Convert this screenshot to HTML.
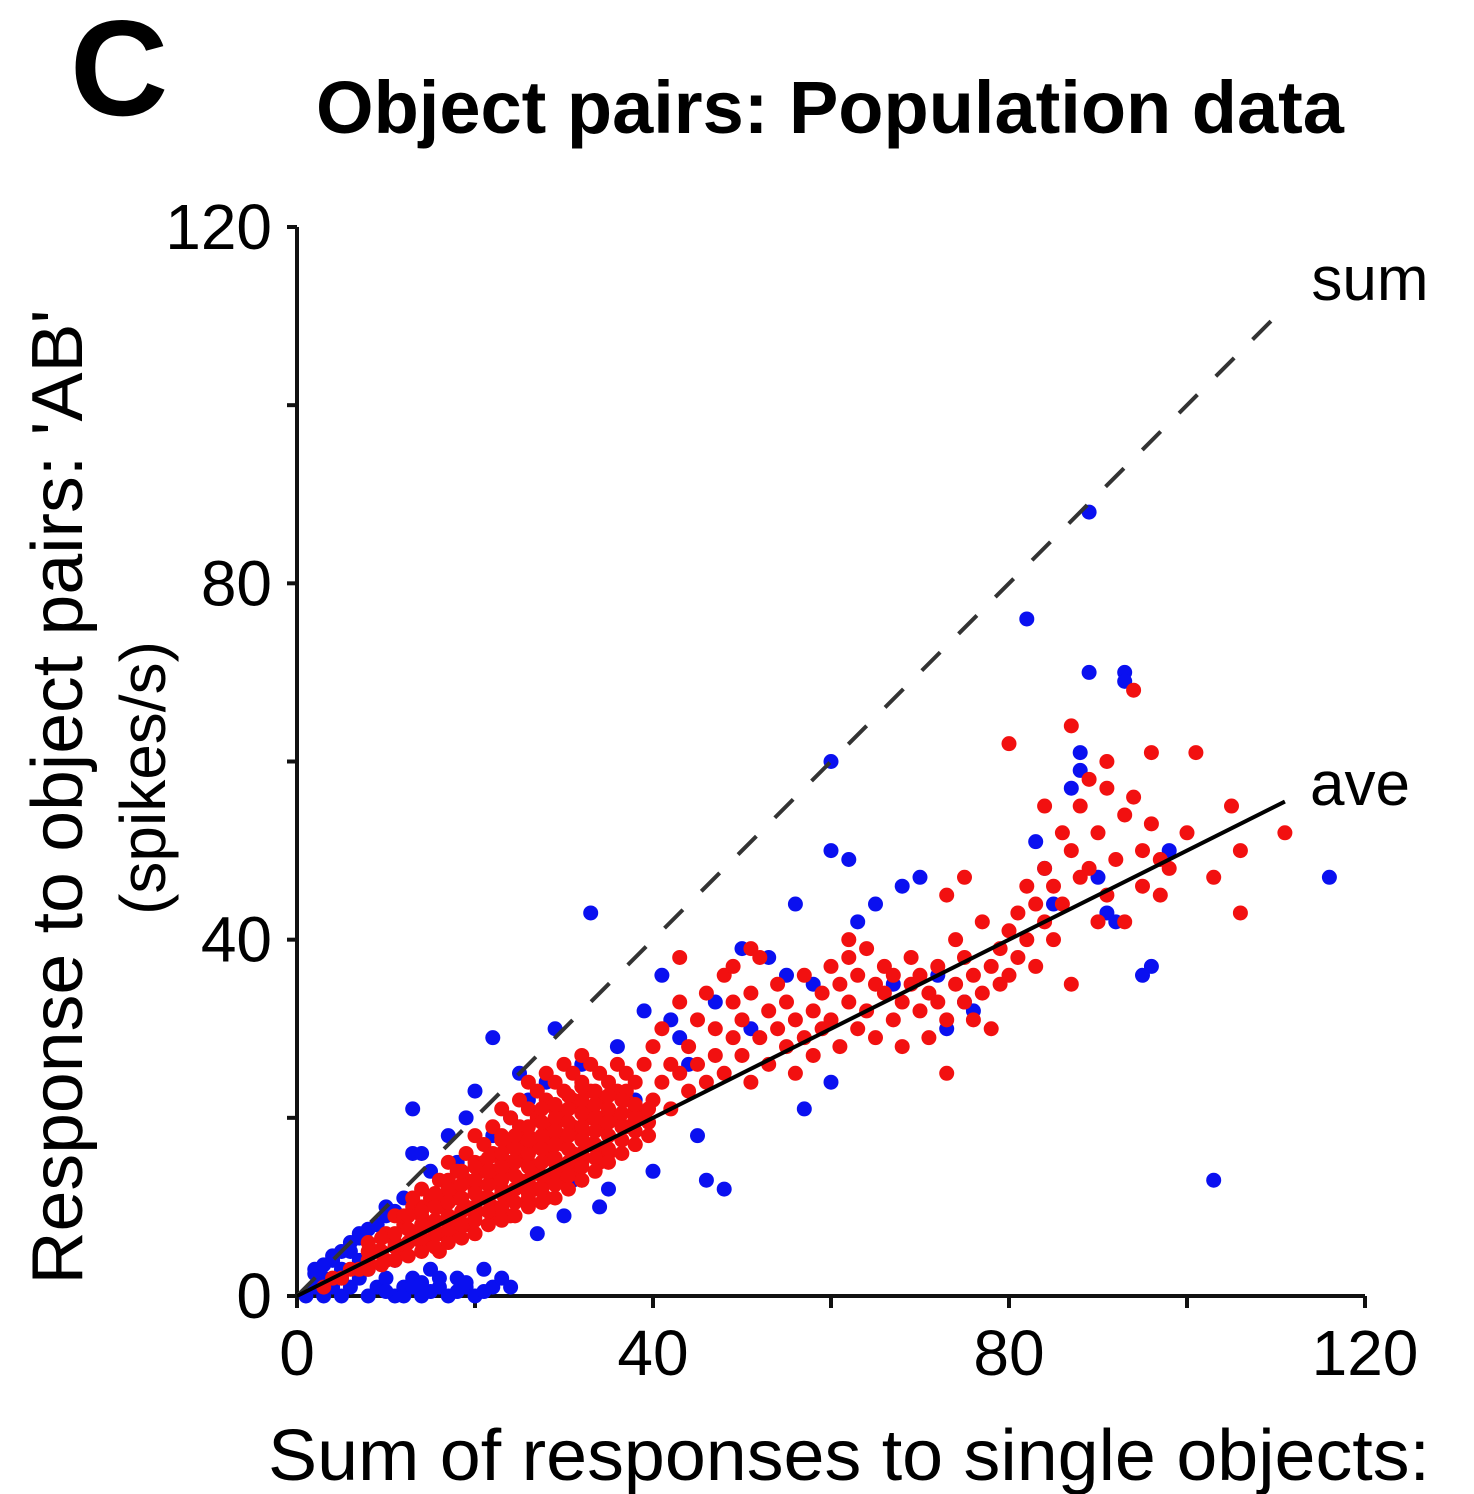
<!DOCTYPE html>
<html><head><meta charset="utf-8"><style>
html,body{margin:0;padding:0;background:#fff;}
svg{display:block;font-family:"Liberation Sans",Arial,sans-serif;}
</style></head><body>
<svg id="chart" width="1474" height="1494" viewBox="0 0 1474 1494">
<text x="70" y="115" font-size="136" font-weight="bold">C</text>
<text x="830" y="133" font-size="74" font-weight="bold" text-anchor="middle">Object pairs: Population data</text>
<g id="axes"></g>
<g id="marks"></g>
<g id="lines"></g>
<text x="1370" y="300" font-size="62" text-anchor="middle">sum</text>
<text x="1360" y="805" font-size="62" text-anchor="middle">ave</text>
<text transform="translate(82,797) rotate(-90)" textLength="975" lengthAdjust="spacingAndGlyphs" font-size="72" text-anchor="middle">Response to object pairs:  'AB'</text>
<text transform="translate(165,778) rotate(-90)" font-size="64" text-anchor="middle">(spikes/s)</text>
<text x="849" y="1480" font-size="72" textLength="1162" lengthAdjust="spacingAndGlyphs" text-anchor="middle">Sum of responses to single objects:</text>
</svg>
<script>
const xTicks=[0,40,80,120];
const yTicks=[0,40,80,120];
const minorTicks=[20,60,100];
const redX=[3,4,5,6,7,8,8,9,10,10,11,11,12,12,13,13,14,14,14,15,15,16,16,16,17,17,17,18,18,18,19,19,19,20,20,20,20,21,21,21,22,22,22,22,23,23,23,23,24,24,24,24,25,25,25,25,26,26,26,26,26,27,27,27,27,28,28,28,28,28,29,29,29,29,30,30,30,30,30,31,31,31,31,32,32,32,32,32,33,33,33,33,34,34,34,34,35,35,35,36,36,36,37,37,37,38,38,39,39,40,40,41,41,42,42,43,43,44,44,45,45,46,46,47,47,48,48,49,49,50,50,51,51,52,52,53,53,54,54,55,55,56,56,57,57,58,58,59,59,60,60,61,61,62,62,63,63,64,64,65,65,66,66,67,67,68,68,69,69,70,70,71,71,72,72,73,73,74,74,75,75,76,76,77,77,78,78,79,79,80,80,81,81,82,82,83,83,84,84,85,85,86,86,87,87,88,88,89,89,90,90,91,91,92,93,93,94,94,95,95,96,96,97,97,98,100,101,103,105,106,106,111,80,87,91,84,43,49,51,73,75,62,
12,14,16,18,20,22,24,26,28,30,32,34,15,19,23,27,31,35,13,17,21,25,29,33,37,18,22,26,30,34,38,16,20,24,28,32,
8,8,9.5,9.5,9.5,11,11,11,12.5,12.5,12.5,12.5,14,14,14,14,15.5,15.5,15.5,15.5,15.5,17,17,17,17,17,18.5,18.5,18.5,18.5,18.5,18.5,20,20,20,20,20,20,21.5,21.5,21.5,21.5,21.5,21.5,23,23,23,23,23,23,23,24.5,24.5,24.5,24.5,24.5,24.5,24.5,26,26,26,26,26,26,26,27.5,27.5,27.5,27.5,27.5,27.5,27.5,27.5,29,29,29,29,29,29,29,29,30.5,30.5,30.5,30.5,30.5,30.5,30.5,30.5,32,32,32,32,32,32,32,32,33.5,33.5,33.5,33.5,33.5,33.5,33.5,35,35,35,35,35,35,36.5,36.5,36.5,36.5,36.5,38,38,38,38,39.5,39.5,39.5];
const redY=[1,2,2,3,3,4,6,5,4,7,6,9,5,8,7,10,6,9,12,8,11,7,10,13,9,12,15,8,11,14,10,13,16,9,12,15,18,11,14,17,10,13,16,19,12,15,18,21,11,14,17,20,13,16,19,22,12,15,18,21,24,14,17,20,23,13,16,19,22,25,15,18,21,24,14,17,20,23,26,16,19,22,25,15,18,21,24,27,17,20,23,26,16,19,22,25,18,21,24,20,23,26,19,22,25,21,24,20,26,22,28,24,30,21,26,25,33,23,28,26,31,24,34,27,30,25,36,29,33,27,31,24,34,29,38,26,32,30,35,28,33,31,25,29,36,32,27,34,30,31,37,28,35,33,38,30,36,32,39,29,35,34,37,31,36,33,28,35,38,32,36,34,29,37,33,31,25,35,40,33,38,36,31,34,42,37,30,39,35,41,36,38,43,40,46,44,37,42,48,46,40,52,44,50,35,47,55,58,48,42,52,57,45,49,54,42,68,56,50,46,61,53,45,49,48,52,61,47,55,50,43,52,62,64,60,55,38,37,39,45,47,40,
9,10,11,12,13,14,15,16,17,18,19,20,6,8,10,12,14,16,11,13,15,17,19,21,23,7,9,11,13,15,17,5,7,9,11,13,
3,5,3.5,5,6.5,4,5.5,7,4.5,6,7.5,9,5,6.5,8,9.5,5.5,7,8.5,10,11.5,6,7.5,9,10.5,12,6.5,8,9.5,11,12.5,14,7,8.5,10,11.5,13,14.5,8,9.5,11,12.5,14,15.5,8.5,10,11.5,13,14.5,16,17.5,9,10.5,12,13.5,15,16.5,18,10,11.5,13,14.5,16,17.5,19,10.5,12,13.5,15,16.5,18,19.5,21,11,12.5,14,15.5,17,18.5,20,21.5,12,13.5,15,16.5,18,19.5,21,22.5,13,14.5,16,17.5,19,20.5,22,23.5,14,15.5,17,18.5,20,21.5,23,15,16.5,18,19.5,21,22.5,16,17.5,19,20.5,22,17,18.5,20,21.5,18,19.5,21];
const blueX=[1,2,2,3,3,4,4,5,5,6,6,7,7,8,8,9,9,10,10,11,11,12,12,13,13,13,14,14,15,15,16,17,17,18,18,19,19,20,20,21,22,22,23,24,24,25,26,27,28,29,30,31,32,33,34,35,36,38,39,40,41,42,43,44,45,46,47,48,50,51,53,55,56,57,58,60,60,60,62,63,65,67,68,70,72,73,75,76,82,83,84,85,87,88,88,89,89,90,91,93,93,95,96,98,103,116,92,
2,3,4,5,6,7,8,9,10,11,3,5,7,10,12,13,15,16,18,19,21,22,23,24,14];
const blueY=[0,1,3,0,2,1,4,0,3,1,5,2,7,0,3,1,8,2,10,0,4,1,11,2,16,21,0,16,3,14,1,0,18,2,15,1,20,0,23,3,18,29,10,14,20,25,22,7,24,30,9,13,26,43,10,12,28,22,32,14,36,31,29,26,18,13,33,12,39,30,38,36,44,21,35,60,50,24,49,42,44,35,46,47,36,30,33,32,76,51,48,44,57,59,61,88,70,47,43,70,69,36,37,50,13,47,42,
2.5,3.5,4.5,5,6,6.5,7.5,8,9,9.5,1.5,2,4,0.5,0,1,0.5,2,0.5,1.5,0.5,1,2,1,1.5];
const sumEnd=[110,110];
const aveSlope=0.5, aveEnd=111;

const NS='http://www.w3.org/2000/svg';
const X0=297,X1=1365,Y0=1296,Y1=227;
const sx=v=>X0+(X1-X0)*v/120;
const sy=v=>Y0-(Y0-Y1)*v/120;
function mk(tag,attrs,parent){const e=document.createElementNS(NS,tag);for(const k in attrs)e.setAttribute(k,attrs[k]);parent.appendChild(e);return e;}
const axes=document.getElementById('axes'),marks=document.getElementById('marks'),lines=document.getElementById('lines');
let el=mk('line',{x1:X0,y1:Y0,x2:X0,y2:Y1,stroke:'#111','stroke-width':4},axes);


el=mk('line',{x1:X0-10,y1:Y0,x2:X1,y2:Y0,stroke:'#111','stroke-width':4},axes);


xTicks.concat(minorTicks).forEach(v=>{
  el=mk('line',{x1:sx(v),y1:Y0,x2:sx(v),y2:Y0+12,stroke:'#111','stroke-width':4},axes);
  
  
});
yTicks.concat(minorTicks).forEach(v=>{
  el=mk('line',{x1:X0-10,y1:sy(v),x2:X0,y2:sy(v),stroke:'#111','stroke-width':4},axes);
  
  
});
xTicks.forEach(v=>{
  el=mk('text',{x:sx(v),y:1375,'font-size':64,'text-anchor':'middle'},axes);el.textContent=v;
  
  
});
yTicks.forEach(v=>{
  el=mk('text',{x:272,y:sy(v)+22,'font-size':64,'text-anchor':'end'},axes);el.textContent=v;
  
  
});
blueX.forEach((x,i)=>{
  el=mk('circle',{cx:sx(x),cy:sy(blueY[i]),r:7.5,fill:'#0a10f0'},marks);
  
  
});
redX.forEach((x,i)=>{
  el=mk('circle',{cx:sx(x),cy:sy(redY[i]),r:7.5,fill:'#f21010'},marks);
  
  
});
el=mk('line',{x1:sx(0),y1:sy(0),x2:sx(sumEnd[0]),y2:sy(sumEnd[1]),stroke:'#333','stroke-width':4,'stroke-dasharray':'26 26'},lines);


el=mk('line',{x1:sx(0),y1:sy(0),x2:sx(aveEnd),y2:sy(aveEnd*aveSlope),stroke:'#000','stroke-width':4},lines);


</script>
</body></html>
